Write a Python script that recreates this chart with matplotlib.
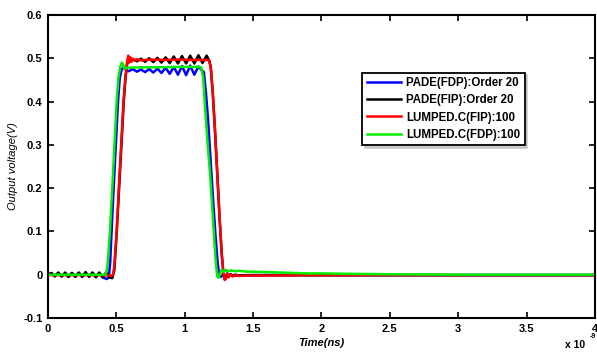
import matplotlib
matplotlib.use("Agg")
import matplotlib.pyplot as plt
import numpy as np

plt.rcParams['font.family'] = ['Liberation Sans', 'DejaVu Sans']

# time in ns, voltage in V
pade_fdp = [(0.00, 0.000), (0.025, 0.003), (0.05, -0.003), (0.075, 0.004), (0.10, -0.004),
            (0.125, 0.003), (0.15, -0.005), (0.175, 0.004), (0.20, -0.004), (0.225, 0.004),
            (0.25, -0.005), (0.275, 0.003), (0.30, -0.004), (0.325, 0.004), (0.35, -0.005),
            (0.375, 0.003), (0.40, -0.006), (0.43, -0.010), (0.445, -0.006), (0.455, 0.03),
            (0.465, 0.10), (0.48, 0.20), (0.496, 0.30), (0.512, 0.40), (0.525, 0.455),
            (0.54, 0.475), (0.555, 0.479), (0.57, 0.472), (0.59, 0.470), (0.62, 0.475),
            (0.65, 0.469), (0.68, 0.474), (0.71, 0.468), (0.74, 0.475), (0.77, 0.467),
            (0.80, 0.476), (0.83, 0.466), (0.86, 0.478), (0.89, 0.464), (0.92, 0.480),
            (0.95, 0.462), (0.98, 0.482), (1.01, 0.461), (1.04, 0.483), (1.07, 0.462),
            (1.10, 0.481), (1.125, 0.472), (1.14, 0.468), (1.155, 0.42), (1.17, 0.36),
            (1.19, 0.26), (1.21, 0.16), (1.225, 0.09), (1.24, 0.03), (1.252, -0.002),
            (1.265, -0.005), (1.28, 0.000), (1.30, -0.003), (1.33, 0.000), (1.37, -0.002),
            (1.45, -0.001), (1.6, -0.001), (2.0, -0.001), (3.0, -0.001), (4.0, -0.001)]

pade_fip = [(0.00, 0.000), (0.025, 0.004), (0.05, -0.004), (0.075, 0.005), (0.10, -0.004),
            (0.125, 0.005), (0.15, -0.005), (0.175, 0.004), (0.20, -0.005), (0.225, 0.005),
            (0.25, -0.004), (0.275, 0.006), (0.30, -0.005), (0.325, 0.005), (0.35, -0.006),
            (0.375, 0.005), (0.40, -0.006), (0.425, 0.005), (0.45, -0.006), (0.47, -0.008),
            (0.485, 0.01), (0.503, 0.10), (0.52, 0.20), (0.537, 0.30), (0.554, 0.40),
            (0.567, 0.455), (0.58, 0.49), (0.59, 0.500), (0.60, 0.494), (0.62, 0.498),
            (0.65, 0.493), (0.68, 0.499), (0.71, 0.492), (0.74, 0.500), (0.77, 0.491),
            (0.80, 0.501), (0.83, 0.490), (0.86, 0.502), (0.89, 0.489), (0.92, 0.504),
            (0.95, 0.488), (0.98, 0.505), (1.01, 0.488), (1.04, 0.506), (1.07, 0.488),
            (1.10, 0.507), (1.13, 0.489), (1.16, 0.506), (1.18, 0.494), (1.19, 0.48),
            (1.205, 0.42), (1.22, 0.34), (1.238, 0.233), (1.255, 0.13), (1.27, 0.05),
            (1.282, 0.005), (1.292, -0.010), (1.30, -0.008), (1.31, 0.003), (1.32, -0.005),
            (1.335, 0.001), (1.35, -0.003), (1.37, 0.000), (1.40, -0.002), (1.5, -0.001),
            (2.0, -0.001), (3.0, -0.001), (4.0, -0.001)]

lumped_fip = [(0.00, -0.001), (0.20, -0.001), (0.40, -0.001), (0.46, -0.002), (0.475, -0.001),
              (0.485, 0.02), (0.502, 0.10), (0.518, 0.20), (0.535, 0.30), (0.552, 0.40),
              (0.565, 0.455), (0.578, 0.49), (0.587, 0.506), (0.595, 0.490), (0.603, 0.502),
              (0.612, 0.492), (0.622, 0.499), (0.635, 0.494), (0.65, 0.498), (0.68, 0.495),
              (0.75, 0.497), (0.85, 0.496), (0.95, 0.497), (1.05, 0.496), (1.175, 0.496),
              (1.19, 0.48), (1.205, 0.42), (1.22, 0.34), (1.238, 0.233), (1.255, 0.13),
              (1.27, 0.05), (1.282, 0.005), (1.292, -0.012), (1.30, -0.010), (1.31, 0.003),
              (1.32, -0.006), (1.335, 0.000), (1.35, -0.004), (1.37, -0.001), (1.40, -0.003),
              (1.45, -0.002), (1.6, -0.002), (2.0, -0.001), (4.0, -0.001)]

lumped_fdp = [(0.00, 0.000), (0.20, 0.000), (0.42, 0.000), (0.43, 0.01), (0.44, 0.04),
              (0.453, 0.10), (0.47, 0.20), (0.486, 0.30), (0.502, 0.40), (0.515, 0.455),
              (0.528, 0.480), (0.54, 0.490), (0.55, 0.485), (0.56, 0.476), (0.575, 0.478),
              (0.65, 0.479), (0.80, 0.479), (0.95, 0.480), (1.10, 0.480), (1.12, 0.479),
              (1.135, 0.455), (1.15, 0.38), (1.168, 0.30), (1.185, 0.233), (1.20, 0.16),
              (1.215, 0.085), (1.228, 0.025), (1.238, -0.004), (1.248, -0.007), (1.26, 0.004),
              (1.27, 0.012), (1.285, 0.006), (1.30, 0.011), (1.32, 0.008), (1.34, 0.010),
              (1.37, 0.008), (1.40, 0.009), (1.45, 0.007), (1.5, 0.007), (1.6, 0.006),
              (1.7, 0.005), (1.8, 0.004), (1.9, 0.003), (2.0, 0.003), (2.2, 0.002),
              (2.5, 0.001), (3.0, 0.000), (4.0, 0.000)]

series = [(pade_fdp, '#0000ff', 'PADE(FDP):Order 20'),
          (pade_fip, '#000000', 'PADE(FIP):Order 20'),
          (lumped_fip, '#ff0000', 'LUMPED.C(FIP):100'),
          (lumped_fdp, '#00ee00', 'LUMPED.C(FDP):100')]

xticks = [0, 0.5, 1, 1.5, 2, 2.5, 3, 3.5, 4]
xtick_labels = ['0', '0.5', '1', '1.5', '2', '2.5', '3', '3.5', '4']
yticks = [-0.1, 0, 0.1, 0.2, 0.3, 0.4, 0.5, 0.6]
ytick_labels = ['-0.1', '0', '0.1', '0.2', '0.3', '0.4', '0.5', '0.6']

fig = plt.figure(figsize=(5.97, 3.53), dpi=100)
ax = fig.add_axes([0.0804, 0.0992, 0.9162, 0.8584])

for pts, col, lab in series:
    t, v = np.array(pts).T
    ax.plot(t, v, color=col, lw=1.8, label=lab)

ax.set_xlim(0, 4)
ax.set_ylim(-0.1, 0.6)
ax.set_xticks(xticks)
ax.set_xticklabels(xtick_labels)
ax.set_yticks(yticks)
ax.set_yticklabels(ytick_labels)
ax.tick_params(direction='in', top=True, right=True, length=4, width=1.2,
               labelsize=8, pad=4)
for lbl in ax.get_xticklabels() + ax.get_yticklabels():
    lbl.set_fontweight('bold')
for s in ax.spines.values():
    s.set_linewidth(1.5)

ax.set_xlabel('Time(ns)', fontsize=8, fontweight='bold', style='italic', labelpad=3)
ax.set_ylabel('Output voltage(V)', fontsize=8, style='italic', labelpad=4)

fig.text(0.946, 0.008, 'x 10', fontsize=7.5, fontweight='bold', ha='left', va='bottom')
fig.text(0.987, 0.036, '-9', fontsize=5, fontweight='bold', ha='left', va='bottom')

leg = ax.legend(loc='upper left', bbox_to_anchor=(0.574, 0.81), borderaxespad=0,
                fancybox=False, shadow={'color': '0.7', 'alpha': 0.6}, framealpha=1,
                handlelength=3.0, handletextpad=0.4, labelspacing=0.45, borderpad=0.4,
                prop={'size': 8.3, 'weight': 'bold'})
leg.get_frame().set_edgecolor('black')
leg.get_frame().set_linewidth(1.3)

fig.savefig('out.png', dpi=100)
